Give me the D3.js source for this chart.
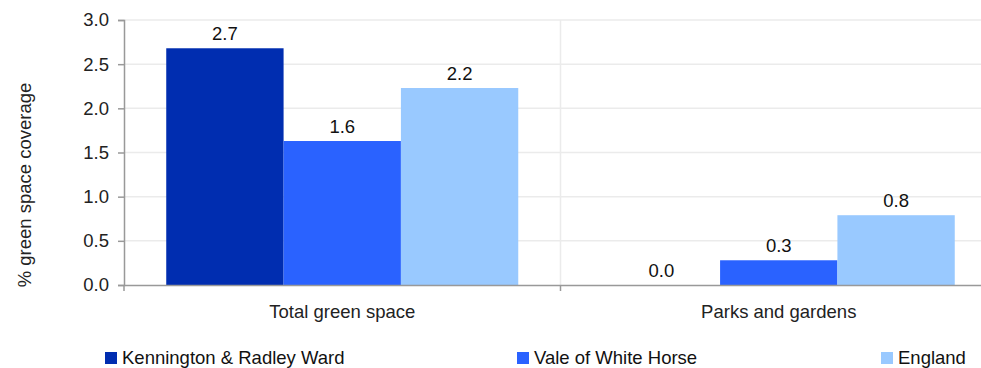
<!DOCTYPE html>
<html><head><meta charset="utf-8">
<script src="https://cdn.jsdelivr.net/npm/d3@7"></script>
<style>body{margin:0;background:#fff;}svg{display:block;font-family:"Liberation Sans",Arial,sans-serif;}</style>
</head><body><svg id="c" width="981" height="368"></svg>
<script>
const categories = ["Total green space", "Parks and gardens"];
const seriesNames = ["Kennington & Radley Ward", "Vale of White Horse", "England"];
const seriesColors = ["#002db0", "#2a62ff", "#99c9ff"];
const kennington = [2.68, 0.0];
const vale = [1.63, 0.28];
const england = [2.23, 0.79];
const yTicks = [0, 0.5, 1.0, 1.5, 2.0, 2.5, 3.0];
const seriesValues = [kennington, vale, england];

const FS = 18.5;
const svg = d3.select("#c");
const mLeft = 124, mRight = 997, mTop = 20, mBottom = 285;
const x0 = d3.scaleBand().domain(categories).range([mLeft, mRight]);
const x1 = d3.scaleBand().domain(seriesNames).range([0, x0.bandwidth()]).paddingOuter(0.36);
const y = d3.scaleLinear().domain([0, 3]).range([mBottom, mTop]);

// gridlines
svg.append("g").selectAll("line").data(yTicks.slice(1)).join("line")
  .attr("x1", mLeft).attr("x2", 981).attr("y1", d => y(d)).attr("y2", d => y(d))
  .attr("stroke", "#ebebeb").attr("stroke-width", 1.5);
// vertical category divider
svg.append("line").attr("x1", x0(categories[1])).attr("x2", x0(categories[1]))
  .attr("y1", mTop).attr("y2", mBottom).attr("stroke", "#ebebeb").attr("stroke-width", 1.5);

// bars
const g = svg.append("g");
categories.forEach((c, ci) => {
  seriesNames.forEach((s, si) => {
    const v = seriesValues[si][ci];
    const bx = x0(c) + x1(s);
    g.append("rect").attr("x", bx).attr("width", x1.bandwidth())
      .attr("y", y(v)).attr("height", y(0) - y(v)).attr("fill", seriesColors[si]);
    g.append("text").attr("x", bx + x1.bandwidth() / 2).attr("y", y(v) - 8)
      .attr("text-anchor", "middle").attr("font-size", FS).attr("fill", "#111")
      .text(v.toFixed(1));
  });
});

// y axis
const yAxis = d3.axisLeft(y).tickValues(yTicks).tickFormat(d3.format(".1f")).tickSize(6).tickPadding(9);
const ya = svg.append("g").attr("transform", `translate(${mLeft},0)`).call(yAxis);
ya.select(".domain").attr("stroke", "#999").attr("stroke-width", 1.5);
ya.selectAll(".tick line").attr("stroke", "#999").attr("stroke-width", 1.5);
ya.selectAll(".tick text").attr("font-size", FS).attr("fill", "#222").attr("font-family", "Liberation Sans, Arial, sans-serif");

// x axis
const xAxis = d3.axisBottom(x0).tickSize(0).tickPadding(20);
const xa = svg.append("g").attr("transform", `translate(0,${mBottom})`).call(xAxis);
xa.select(".domain").attr("stroke", "#999").attr("stroke-width", 1.5);
xa.selectAll(".tick text").attr("font-size", FS).attr("fill", "#222").attr("font-family", "Liberation Sans, Arial, sans-serif");
// category boundary ticks
svg.append("g").selectAll("line").data([mLeft, x0(categories[1])]).join("line")
  .attr("x1", d => d).attr("x2", d => d).attr("y1", mBottom).attr("y2", mBottom + 6)
  .attr("stroke", "#999").attr("stroke-width", 1.5);

// y title
svg.append("text").attr("transform", "translate(31,185) rotate(-90)")
  .attr("text-anchor", "middle").attr("font-size", FS).attr("fill", "#222")
  .text("% green space coverage");

// legend
const legX = [105, 517, 881];
seriesNames.forEach((s, i) => {
  svg.append("rect").attr("x", legX[i]).attr("y", 352).attr("width", 12).attr("height", 12).attr("fill", seriesColors[i]);
  svg.append("text").attr("x", legX[i] + 17).attr("y", 363.5).attr("font-size", FS).attr("fill", "#111")
    .text(s);
});
</script></body></html>
